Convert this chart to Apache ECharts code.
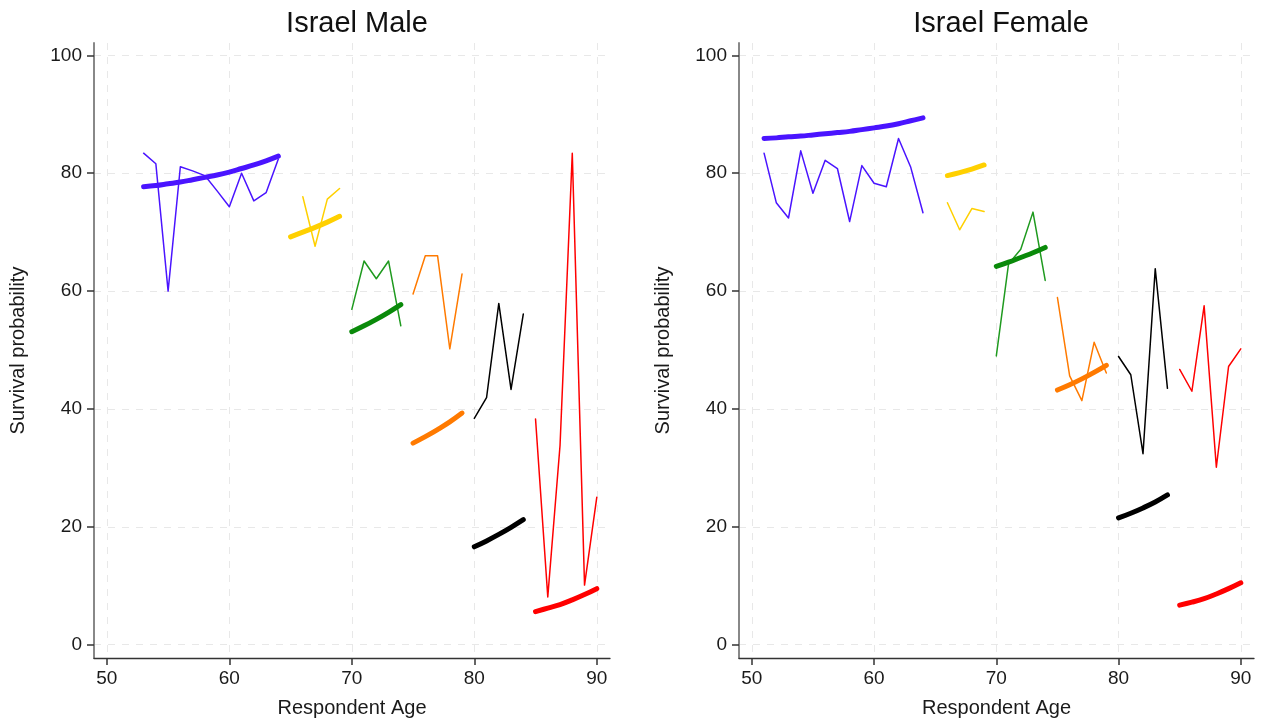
<!DOCTYPE html>
<html>
<head>
<meta charset="utf-8">
<script src="https://cdn.jsdelivr.net/npm/echarts@6/dist/echarts.min.js"></script>
<style>
html,body{margin:0;padding:0;background:#fff;}
#c{width:1265px;height:725px;}
</style>
</head>
<body>
<div id="c"></div>
<script>
// ---- Data ----
const xTicks = [50, 60, 70, 80, 90];
const yTicks = [0, 20, 40, 60, 80, 100];
const titles = ['Israel Male', 'Israel Female'];

// Male
const mBlueAges = [53, 54, 55, 56, 57, 58, 59, 60, 61, 62, 63, 64];
const mBlueObs  = [83.4, 81.6, 60.0, 81.1, 80.4, 79.6, 77.0, 74.3, 80.0, 75.3, 76.7, 82.4];
const mBlueFit  = [77.7, 77.9, 78.2, 78.5, 78.9, 79.3, 79.7, 80.2, 80.8, 81.4, 82.1, 82.9];
const mYellowObsAges = [66, 67, 68, 69];
const mYellowObs  = [76.0, 67.6, 75.6, 77.4];
const mYellowFitAges = [65, 66, 67, 68, 69];
const mYellowFit  = [69.2, 70.0, 70.8, 71.7, 72.7];
const mGreenAges = [70, 71, 72, 73, 74];
const mGreenObs  = [56.9, 65.1, 62.1, 65.1, 54.1];
const mGreenFit  = [53.1, 54.1, 55.2, 56.4, 57.7];
const mOrangeAges = [75, 76, 77, 78, 79];
const mOrangeObs  = [59.5, 66.0, 66.0, 50.2, 62.9];
const mOrangeFit  = [34.2, 35.3, 36.5, 37.8, 39.3];
const mBlackAges = [80, 81, 82, 83, 84];
const mBlackObs  = [38.4, 41.9, 57.9, 43.3, 56.1];
const mBlackFit  = [16.6, 17.6, 18.7, 19.9, 21.2];
const mRedAges = [85, 86, 87, 88, 89, 90];
const mRedObs  = [38.3, 8.1, 33.8, 83.4, 10.1, 25.0];
const mRedFit  = [5.6, 6.2, 6.8, 7.6, 8.5, 9.5];

// Female
const fBlueAges = [51, 52, 53, 54, 55, 56, 57, 58, 59, 60, 61, 62, 63, 64];
const fBlueObs  = [83.4, 75.0, 72.4, 83.8, 76.6, 82.2, 80.8, 71.8, 81.3, 78.3, 77.7, 85.9, 81.0, 73.3];
const fBlueFit  = [85.9, 86.0, 86.2, 86.3, 86.5, 86.7, 86.9, 87.1, 87.4, 87.7, 88.0, 88.4, 88.9, 89.4];
const fYellowAges = [66, 67, 68, 69];
const fYellowObs  = [75.0, 70.4, 74.0, 73.5];
const fYellowFit  = [79.6, 80.1, 80.7, 81.4];
const fGreenAges = [70, 71, 72, 73, 74];
const fGreenObs  = [49.0, 64.6, 67.1, 73.4, 61.8];
const fGreenFit  = [64.2, 64.9, 65.7, 66.5, 67.4];
const fOrangeAges = [75, 76, 77, 78, 79];
const fOrangeObs  = [58.9, 45.6, 41.4, 51.3, 46.1];
const fOrangeFit  = [43.2, 44.1, 45.1, 46.2, 47.4];
const fBlackAges = [80, 81, 82, 83, 84];
const fBlackObs  = [48.9, 45.8, 32.4, 63.8, 43.5];
const fBlackFit  = [21.5, 22.3, 23.2, 24.2, 25.4];
const fRedAges = [85, 86, 87, 88, 89, 90];
const fRedObs  = [46.7, 43.0, 57.5, 30.1, 47.2, 50.2];
const fRedFit  = [6.7, 7.2, 7.8, 8.6, 9.5, 10.5];

// ---- Styling ----
const C = {
  blue: '#4a14ff', yellow: '#ffd000', green: '#0a8a0a', greenThin: '#1f9a1f',
  orange: '#ff7a00', black: '#000000', red: '#ff0000'
};
const FONT = '"Liberation Sans", Arial, Helvetica, sans-serif';

function pairs(ages, vals) { return ages.map((a, i) => [a, vals[i]]); }

function line(idx, ages, vals, color, thick) {
  return {
    type: 'line', xAxisIndex: idx, yAxisIndex: idx,
    data: pairs(ages, vals), showSymbol: false, symbol: 'none',
    smooth: thick ? 0.4 : false, z: thick ? 3 : 2, silent: true,
    lineStyle: { color: color, width: thick ? 5 : 1.5, cap: 'round', join: 'round' }
  };
}

const groups = [
  [
    [mBlueAges, mBlueObs, mBlueAges, mBlueFit, C.blue, C.blue],
    [mYellowObsAges, mYellowObs, mYellowFitAges, mYellowFit, C.yellow, C.yellow],
    [mGreenAges, mGreenObs, mGreenAges, mGreenFit, C.greenThin, C.green],
    [mOrangeAges, mOrangeObs, mOrangeAges, mOrangeFit, C.orange, C.orange],
    [mBlackAges, mBlackObs, mBlackAges, mBlackFit, C.black, C.black],
    [mRedAges, mRedObs, mRedAges, mRedFit, C.red, C.red]
  ],
  [
    [fBlueAges, fBlueObs, fBlueAges, fBlueFit, C.blue, C.blue],
    [fYellowAges, fYellowObs, fYellowAges, fYellowFit, C.yellow, C.yellow],
    [fGreenAges, fGreenObs, fGreenAges, fGreenFit, C.greenThin, C.green],
    [fOrangeAges, fOrangeObs, fOrangeAges, fOrangeFit, C.orange, C.orange],
    [fBlackAges, fBlackObs, fBlackAges, fBlackFit, C.black, C.black],
    [fRedAges, fRedObs, fRedAges, fRedFit, C.red, C.red]
  ]
];

const series = [];
groups.forEach((g, idx) => {
  g.forEach(s => {
    series.push(line(idx, s[0], s[1], s[4], false));
    series.push(line(idx, s[2], s[3], s[5], true));
  });
});

const grids = [
  { left: 94, top: 43, width: 516, height: 615 },
  { left: 739, top: 43, width: 515, height: 615 }
];

function xAxis(i) {
  return {
    type: 'value', gridIndex: i, min: 48.95, max: 91.08,
    name: 'Respondent Age', nameLocation: 'middle', nameGap: 40,
    nameTextStyle: { fontFamily: FONT, fontSize: 20, color: '#1a1a1a' },
    axisLine: { show: true, onZero: false, lineStyle: { color: '#333', width: 1.3 } },
    axisTick: { show: true, length: 7, customValues: xTicks, lineStyle: { color: '#333', width: 1.5 } },
    axisLabel: { customValues: xTicks, fontFamily: FONT, fontSize: 19, color: '#1a1a1a', margin: 11 },
    splitLine: { show: true, lineStyle: { color: '#e8e8e8', width: 1, type: [7, 7] } }
  };
}
function yAxis(i) {
  return {
    type: 'value', gridIndex: i, min: -2.27, max: 102.1,
    name: 'Survival probability', nameLocation: 'middle', nameGap: 66, nameRotate: 90,
    nameTextStyle: { fontFamily: FONT, fontSize: 20, color: '#1a1a1a' },
    axisLine: { show: true, onZero: false, lineStyle: { color: '#888', width: 2 } },
    axisTick: { show: true, length: 7, customValues: yTicks, lineStyle: { color: '#333', width: 1.5 } },
    axisLabel: { customValues: yTicks, fontFamily: FONT, fontSize: 19, color: '#1a1a1a', margin: 12 },
    splitLine: { show: true, lineStyle: { color: '#e8e8e8', width: 1, type: [7, 7] } }
  };
}

const chart = echarts.init(document.getElementById('c'), null, { renderer: 'canvas' });
chart.setOption({
  animation: false,
  backgroundColor: '#fff',
  title: [
    { text: titles[0], left: 352, top: 4, textAlign: 'center',
      textStyle: { fontFamily: FONT, fontSize: 29, fontWeight: 'normal', color: '#111' } },
    { text: titles[1], left: 996, top: 4, textAlign: 'center',
      textStyle: { fontFamily: FONT, fontSize: 29, fontWeight: 'normal', color: '#111' } }
  ],
  grid: grids,
  xAxis: [xAxis(0), xAxis(1)],
  yAxis: [yAxis(0), yAxis(1)],
  series: series
});
</script>
</body>
</html>
